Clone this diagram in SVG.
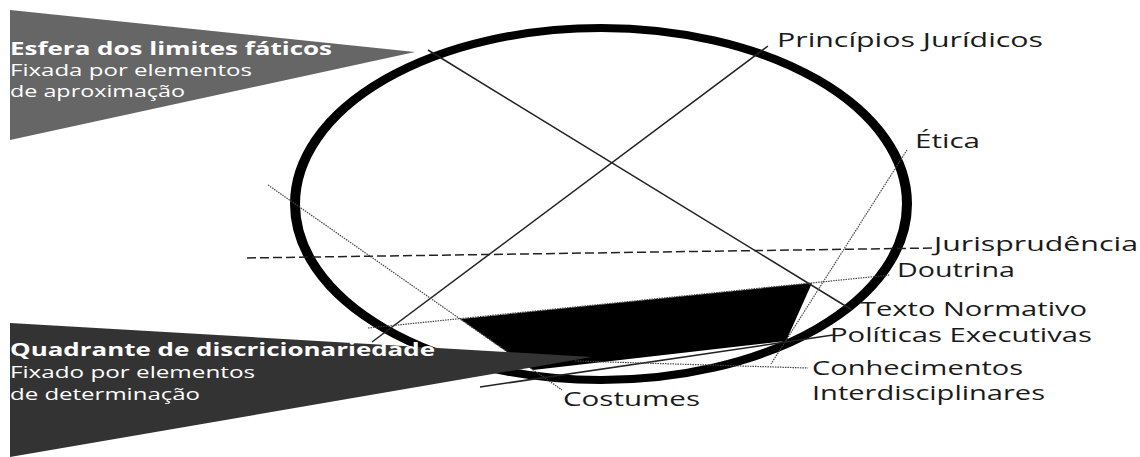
<svg xmlns="http://www.w3.org/2000/svg" width="1140" height="457" viewBox="0 0 1140 457">
<style>
.lbl{font-family:"Open Sans","Liberation Sans",sans-serif;font-size:19.5px;fill:#1a1a1a}
.hd{font-family:"Open Sans","Liberation Sans",sans-serif;font-size:18.5px;font-weight:bold;fill:#ffffff}
.sub{font-family:"Open Sans","Liberation Sans",sans-serif;font-size:16px;fill:#ffffff}
.solid{stroke:#222;stroke-width:1.5;fill:none}
.dot{stroke:#444;stroke-width:1.2;stroke-dasharray:1.5 1;fill:none}
.dash{stroke:#222;stroke-width:1.5;stroke-dasharray:9 4;fill:none}
</style>
<rect width="1140" height="457" fill="#ffffff"/>
<g id="circle">
<ellipse transform="scale(1.25,1)" cx="480.8" cy="204" rx="244.8" ry="176" fill="none" stroke="#000" stroke-width="8"/>
</g>
<g id="quadrant">
<polygon points="460,319 812,283 786,341 533,370" fill="#000"/>
</g>
<g id="connectors">
<line class="solid" x1="428" y1="50" x2="852" y2="310"/>
<line class="solid" x1="768" y1="46" x2="372" y2="342"/>
<line class="dot" x1="907" y1="150" x2="771" y2="364"/>
<line class="dash" x1="247" y1="258" x2="932" y2="248"/>
<line class="dot" x1="368" y1="328" x2="890" y2="275"/>
<line class="dot" x1="268" y1="185" x2="562" y2="390"/>
<line class="solid" x1="480" y1="387" x2="833" y2="335"/>
<line class="dot" x1="575" y1="361" x2="808" y2="368"/>
</g>
<g id="label-principios"><text class="lbl" x="777" y="47" textLength="266" lengthAdjust="spacingAndGlyphs">Princípios Jurídicos</text></g>
<g id="label-etica"><text class="lbl" x="915" y="148" textLength="65" lengthAdjust="spacingAndGlyphs">Ética</text></g>
<g id="label-jurisprudencia"><text class="lbl" x="934" y="251" textLength="204" lengthAdjust="spacingAndGlyphs">Jurisprudência</text></g>
<g id="label-doutrina"><text class="lbl" x="897" y="277" textLength="118" lengthAdjust="spacingAndGlyphs">Doutrina</text></g>
<g id="label-texto"><text class="lbl" x="860" y="316" textLength="227" lengthAdjust="spacingAndGlyphs">Texto Normativo</text></g>
<g id="label-politicas"><text class="lbl" x="830" y="342" textLength="262" lengthAdjust="spacingAndGlyphs">Políticas Executivas</text></g>
<g id="label-conhecimentos"><text class="lbl" x="812" y="375" textLength="211" lengthAdjust="spacingAndGlyphs">Conhecimentos</text><text class="lbl" x="812" y="400" textLength="233" lengthAdjust="spacingAndGlyphs">Interdisciplinares</text></g>
<g id="label-costumes"><text class="lbl" x="563" y="406" textLength="137" lengthAdjust="spacingAndGlyphs">Costumes</text></g>
<g id="esfera">
<polygon points="10,10 415,52 10,140" fill="#666666"/>
<text class="hd" x="10" y="55" textLength="322" lengthAdjust="spacingAndGlyphs">Esfera dos limites fáticos</text>
<text class="sub" x="10" y="76" textLength="242" lengthAdjust="spacingAndGlyphs">Fixada por elementos</text>
<text class="sub" x="10" y="97" textLength="175" lengthAdjust="spacingAndGlyphs">de aproximação</text>
</g>
<g id="quadrante">
<polygon points="10,323 592,357 10,457" fill="#333333"/>
<text class="hd" x="10" y="356" textLength="425" lengthAdjust="spacingAndGlyphs">Quadrante de discricionariedade</text>
<text class="sub" x="10" y="378" textLength="245" lengthAdjust="spacingAndGlyphs">Fixado por elementos</text>
<text class="sub" x="10" y="400" textLength="190" lengthAdjust="spacingAndGlyphs">de determinação</text>
</g>
</svg>
